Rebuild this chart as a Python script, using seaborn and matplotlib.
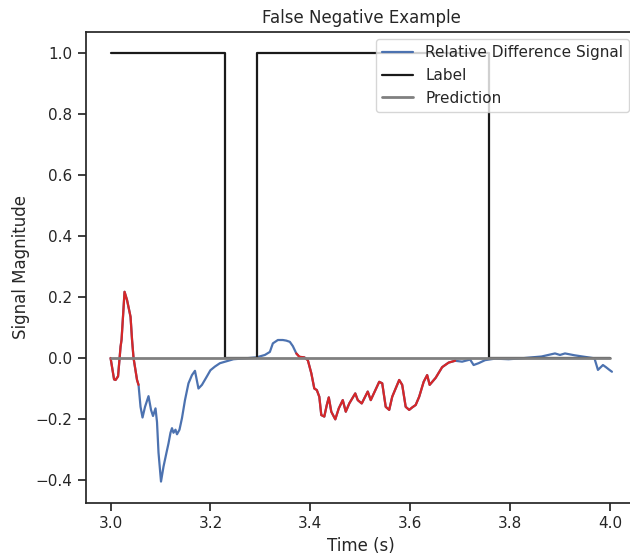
import numpy as np
import pandas as pd
import matplotlib
matplotlib.use("Agg")
import matplotlib.pyplot as plt
import seaborn as sns

# ---- data ----
time_s = [3.000, 3.007, 3.010, 3.015, 3.020, 3.022, 3.028, 3.033, 3.040, 3.043, 3.046,
          3.053, 3.056, 3.060, 3.064, 3.069, 3.076, 3.081, 3.085, 3.090, 3.093, 3.096,
          3.101, 3.106, 3.112, 3.116, 3.120, 3.123, 3.126, 3.130, 3.133, 3.138, 3.143,
          3.149, 3.156, 3.163, 3.169, 3.176, 3.183, 3.193, 3.200, 3.209, 3.219, 3.246,
          3.270, 3.292, 3.309, 3.319, 3.325, 3.335, 3.345, 3.352, 3.359, 3.365, 3.372,
          3.378, 3.388, 3.395, 3.402, 3.408, 3.413, 3.418, 3.422, 3.428, 3.433, 3.437,
          3.442, 3.450, 3.457, 3.465, 3.471, 3.478, 3.490, 3.495, 3.503, 3.515, 3.521,
          3.538, 3.544, 3.551, 3.558, 3.564, 3.578, 3.584, 3.591, 3.598, 3.604, 3.611,
          3.618, 3.627, 3.634, 3.639, 3.651, 3.664, 3.677, 3.690, 3.704, 3.720, 3.727,
          3.737, 3.750, 3.770, 3.797, 3.823, 3.863, 3.890, 3.900, 3.910, 3.929, 3.949,
          3.969, 3.976, 3.986, 3.992, 3.999, 4.004]
signal = [0.000, -0.070, -0.072, -0.060, 0.037, 0.060, 0.217, 0.190, 0.135, 0.060, 0.000,
          -0.072, -0.088, -0.160, -0.195, -0.160, -0.125, -0.170, -0.190, -0.165, -0.210, -0.310,
          -0.405, -0.356, -0.310, -0.280, -0.245, -0.230, -0.245, -0.235, -0.250, -0.235, -0.197,
          -0.138, -0.083, -0.056, -0.042, -0.100, -0.088, -0.060, -0.040, -0.028, -0.017, -0.004,
          -0.001, 0.002, 0.010, 0.020, 0.048, 0.059, 0.059, 0.057, 0.053, 0.039, 0.015,
          0.004, 0.002, -0.007, -0.050, -0.100, -0.105, -0.127, -0.187, -0.192, -0.154, -0.129,
          -0.176, -0.201, -0.165, -0.138, -0.176, -0.149, -0.116, -0.138, -0.149, -0.110, -0.138,
          -0.078, -0.083, -0.160, -0.170, -0.127, -0.072, -0.088, -0.160, -0.170, -0.162, -0.154,
          -0.127, -0.078, -0.056, -0.088, -0.065, -0.030, -0.015, -0.009, -0.012, -0.005, -0.023,
          -0.017, -0.007, -0.002, -0.004, -0.001, 0.005, 0.015, 0.010, 0.015, 0.009, 0.004,
          -0.001, -0.039, -0.023, -0.030, -0.039, -0.045]
# time intervals drawn in red (missed detections)
red_start = [3.000, 3.372]
red_end = [3.056, 3.690]

label_t = [3.000, 3.229, 3.293, 3.757, 4.000]
label_v = [1, 0, 1, 0, 0]
pred_t = [3.000, 4.000]
pred_v = [0, 0]

# ---- plot ----
sns.set_theme(style="ticks")
plt.rcParams["font.family"] = ["DejaVu Sans"]

fig = plt.figure(figsize=(6.3, 5.55), dpi=100)
ax = fig.add_axes([85.5 / 630, 52 / 555, (637 - 85.5) / 630, (503 - 31.5) / 555])

df = pd.DataFrame({"t": time_s, "v": signal})
sns.lineplot(data=df, x="t", y="v", ax=ax, color="#4C72B0", lw=1.6,
             estimator=None, sort=False, label="Relative Difference Signal")
t_arr = np.array(time_s)
for s, e in zip(red_start, red_end):
    m = (t_arr >= s) & (t_arr <= e)
    sns.lineplot(data=df[m], x="t", y="v", ax=ax, color="#d62728", lw=1.6,
                 estimator=None, sort=False, legend=False)
sns.lineplot(x=label_t, y=label_v, ax=ax, color="#1a1a1a", lw=1.6,
             drawstyle="steps-post", estimator=None, sort=False, label="Label")
sns.lineplot(x=pred_t, y=pred_v, ax=ax, color="#808080", lw=2.0,
             estimator=None, sort=False, label="Prediction")

ax.set_title("False Negative Example", fontsize=12)
ax.set_xlabel("Time (s)", fontsize=12)
ax.set_ylabel("Signal Magnitude", fontsize=12)
ax.tick_params(labelsize=11)
ax.legend(loc="upper right", fontsize=11)

fig.savefig("out.png", dpi=100)
